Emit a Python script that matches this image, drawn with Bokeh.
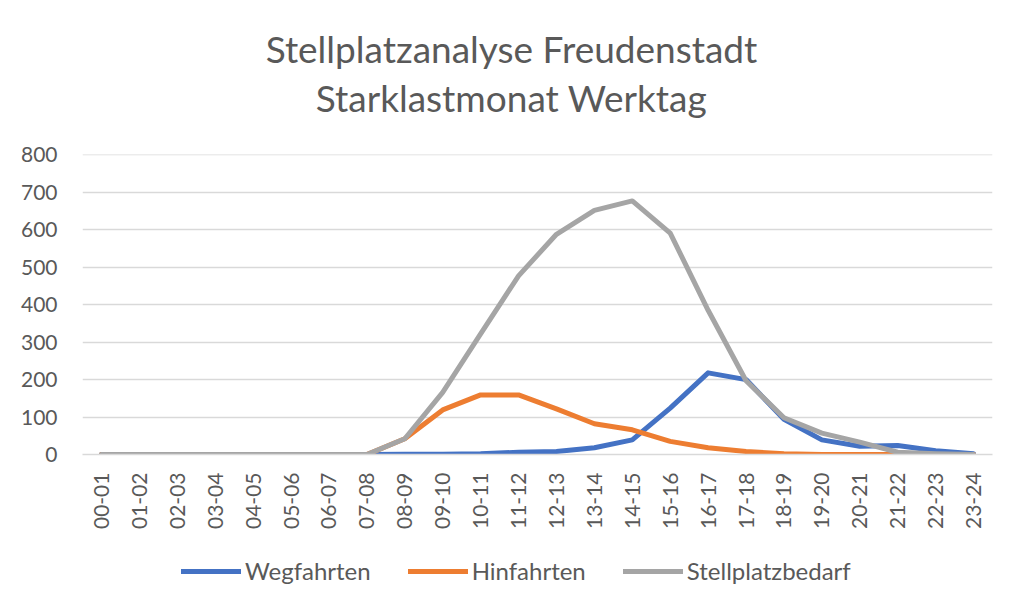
import math
from bokeh.plotting import figure
from bokeh.layouts import column
from bokeh.models import FixedTicker, Legend, LegendItem, Range1d
from bokeh.core.properties import value
from bokeh.embed import file_html
from bokeh.resources import INLINE

hours = ["00-01", "01-02", "02-03", "03-04", "04-05", "05-06", "06-07", "07-08",
         "08-09", "09-10", "10-11", "11-12", "12-13", "13-14", "14-15", "15-16",
         "16-17", "17-18", "18-19", "19-20", "20-21", "21-22", "22-23", "23-24"]
wegfahrten = [0, 0, 0, 0, 0, 0, 0, 0, 1, 1, 2, 6, 8, 18, 39, 124, 218, 200, 94, 39, 22, 24, 10, 2]
hinfahrten = [0, 0, 0, 0, 0, 0, 0, 0, 42, 119, 159, 159, 122, 82, 66, 35, 18, 8, 2, 0, 0, 0, 0, 0]
stellplatzbedarf = [0, 0, 0, 0, 0, 0, 0, 0, 42, 166, 322, 477, 588, 652, 677, 591, 385, 197, 98, 57, 33, 6, 2, 0]
y_ticks = [0, 100, 200, 300, 400, 500, 600, 700, 800]
title_lines = ["Stellplatzanalyse Freudenstadt", "Starklastmonat Werktag"]
series_names = ["Wegfahrten", "Hinfahrten", "Stellplatzbedarf"]
series_colors = ["#4472C4", "#ED7D31", "#A5A5A5"]

FONT = "Lato"
TXT = "#595959"
GRID = "#d9d9d9"
W = 1008
FRAME_L, FRAME_R = 82, 992   # frames of the stacked figures are aligned


def blank(height):
    f = figure(width=W, height=height, x_range=Range1d(FRAME_L, FRAME_R), y_range=Range1d(0, height),
               output_backend="svg", toolbar_location=None,
               x_axis_location=None, y_axis_location=None,
               min_border_left=FRAME_L, min_border_right=W - FRAME_R,
               min_border_top=0, min_border_bottom=0)
    f.outline_line_color = None
    f.grid.visible = False
    f.border_fill_color = "white"
    return f


# header with the two-line title
header = blank(140)
header.text(x=[511, 511], y=[140 - 48, 140 - 97], text=title_lines,
            text_align="center", text_baseline="middle",
            text_font=value(FONT), text_font_size="37px", text_color=TXT)

# main chart
p = figure(x_range=hours, y_range=Range1d(0, 801), width=W, height=405,
           output_backend="svg", toolbar_location=None,
           min_border_left=FRAME_L, min_border_right=W - FRAME_R, min_border_top=14, min_border_bottom=91)
p.outline_line_color = None
p.background_fill_color = "white"
p.border_fill_color = "white"

for name, vals, col in zip(series_names, [wegfahrten, hinfahrten, stellplatzbedarf], series_colors):
    p.line(hours, vals, line_color=col, line_width=5, line_join="round", line_cap="round")

p.yaxis.ticker = FixedTicker(ticks=y_ticks)
p.yaxis.axis_line_color = None
p.yaxis.major_tick_line_color = None
p.yaxis.minor_tick_line_color = None
p.yaxis.major_label_standoff = 19
p.yaxis.major_label_text_font = FONT
p.yaxis.major_label_text_font_size = "21px"
p.yaxis.major_label_text_color = TXT

p.xaxis.axis_line_color = GRID
p.xaxis.axis_line_width = 1.5
p.xaxis.major_tick_line_color = None
p.xaxis.minor_tick_line_color = None
p.xaxis.major_label_orientation = math.pi / 2
p.xaxis.major_label_standoff = 12
p.xaxis.major_label_text_font = FONT
p.xaxis.major_label_text_font_size = "21px"
p.xaxis.major_label_text_color = TXT

p.xgrid.grid_line_color = None
p.ygrid.ticker = FixedTicker(ticks=y_ticks)
p.ygrid.grid_line_color = GRID
p.ygrid.grid_line_width = 1.5

# footer with the legend (legend-only renderers carry no drawable data)
footer = blank(54)
nan = float("nan")
items = []
for name, col in zip(series_names, series_colors):
    r = footer.line(x=[nan], y=[nan], line_color=col, line_width=5, line_cap="round")
    items.append(LegendItem(label=name, renderers=[r]))
legend = Legend(items=items, orientation="horizontal", location=(181 - FRAME_L, 14),
                glyph_width=60, glyph_height=20, label_standoff=4, spacing=37,
                label_text_font=FONT, label_text_font_size="24px", label_text_color=TXT,
                border_line_color=None, background_fill_alpha=0, margin=0, padding=4)
footer.add_layout(legend)

layout = column(header, p, footer, spacing=0)
open("out.html", "w").write(file_html(layout, INLINE))
